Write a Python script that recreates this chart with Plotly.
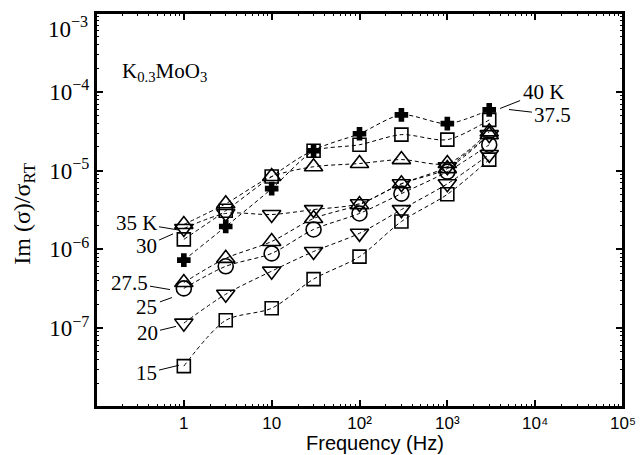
import plotly.graph_objects as go

freq = [1, 3, 10, 30, 100, 300, 1000, 3000]

s40 = [7.3e-7, 1.95e-6, 5.9e-6, 1.79e-5, 2.94e-5, 5.1e-5, 3.94e-5, 5.9e-5]
s375 = [1.34e-6, 3.1e-6, 8.4e-6, 1.79e-5, 2.13e-5, 2.86e-5, 2.47e-5, 4.4e-5]
s35 = [2.07e-6, 3.8e-6, 8.4e-6, 1.12e-5, 1.23e-5, 1.38e-5, 1.23e-5, 3.1e-5]
s30 = [1.84e-6, 2.86e-6, 2.77e-6, 3.2e-6, 3.8e-6, 6.8e-6, 1.12e-5, 2.86e-5]
s275 = [3.8e-7, 7.7e-7, 1.26e-6, 2.47e-6, 3.7e-6, 6.8e-6, 1.06e-5, 2.86e-5]
s25 = [3.2e-7, 6.1e-7, 8.9e-7, 1.79e-6, 2.86e-6, 5.1e-6, 9.7e-6, 2.13e-5]
s20 = [1.16e-7, 2.7e-7, 5.3e-7, 9.4e-7, 1.6e-6, 3.2e-6, 6.8e-6, 1.6e-5]
s15 = [3.3e-8, 1.26e-7, 1.79e-7, 4.2e-7, 8.1e-7, 2.26e-6, 5.0e-6, 1.38e-5]

series = [
    ("40 K", s40, "cross", 10),
    ("37.5 K", s375, "square-open", 13),
    ("35 K", s35, "triangle-up-open", 16),
    ("30 K", s30, "triangle-down-open", 16),
    ("27.5 K", s275, "triangle-up-open", 16),
    ("25 K", s25, "circle-open", 15),
    ("20 K", s20, "triangle-down-open", 16),
    ("15 K", s15, "square-open", 13),
]

x_tickvals = [1, 10, 100, 1000, 10000, 100000]
x_ticktext = ["1", "10", "10²", "10³", "10⁴", "10⁵"]
y_tickvals = [1e-7, 1e-6, 1e-5, 1e-4, 1e-3]
y_ticktext = ["10<sup>−7</sup>", "10<sup>−6</sup>", "10<sup>−5</sup>", "10<sup>−4</sup>", ""]
y_top_label = "10<sup>−3</sup>"

# series labels: (text, arrow tip log10 x, arrow tip log10 y, text offset px)
labels = [
    ("35 K", -0.066, -5.753, -42, -7),
    ("30", -0.123, -5.803, -27, 12),
    ("27.5", -0.157, -6.510, -41, -7),
    ("25", -0.135, -6.611, -25, 9),
    ("20", -0.089, -6.977, -29, 7),
    ("15", -0.055, -7.470, -33, 8),
    ("40 K", 3.600, -4.212, 43, -17),
    ("37.5", 3.702, -4.225, 44, 5),
]

fig = go.Figure()
for name, vals, sym, size in series:
    fig.add_trace(go.Scatter(
        x=freq, y=vals, name=name, mode="lines+markers",
        line=dict(color="black", width=1, dash="4px,3px", shape="spline", smoothing=0.8),
        marker=dict(symbol=sym, size=size, color="black",
                    line=dict(color="black", width=1.6)),
        showlegend=False,
    ))
# empty trace that only makes the top/right tick axes render
fig.add_trace(go.Scatter(x=[], y=[], xaxis="x2", yaxis="y2", showlegend=False, hoverinfo="skip"))

minor_x = [m * 10 ** d for d in range(-1, 5) for m in range(2, 10)]
minor_y = [m * 10 ** d for d in range(-8, -3) for m in range(2, 10)]

serif = "Liberation Serif"
sans = "Liberation Sans"

common = dict(
    type="log", showgrid=False, zeroline=False, automargin=False,
    showline=True, linecolor="black", linewidth=2, mirror="allticks",
    ticks="inside", ticklen=7, tickwidth=1.5, tickcolor="black",
    ticklabeloverflow="allow",
)
xcommon = dict(common, range=[-1, 5], tickmode="array", tickvals=x_tickvals,
               minor=dict(tickmode="array", tickvals=minor_x, ticks="inside", ticklen=3,
                          tickwidth=1, tickcolor="black", showgrid=False))
ycommon = dict(common, range=[-8, -3], tickmode="array", tickvals=y_tickvals,
               minor=dict(tickmode="array", tickvals=minor_y, ticks="inside", ticklen=3,
                          tickwidth=1, tickcolor="black", showgrid=False))

fig.update_layout(
    xaxis=dict(xcommon, ticktext=x_ticktext,
               tickfont=dict(family=sans, size=17, color="black")),
    yaxis=dict(ycommon, ticktext=y_ticktext,
               tickfont=dict(family=serif, size=23, color="black")),
    xaxis2=dict(xcommon, overlaying="x", side="top", anchor="y2", showticklabels=False),
    yaxis2=dict(ycommon, overlaying="y", side="right", anchor="x2", showticklabels=False),
)

for text, lx, ly, ax, ay in labels:
    fig.add_annotation(
        x=lx, y=ly, xref="x", yref="y", text=text, showarrow=True,
        arrowhead=0, arrowwidth=1, arrowcolor="black", ax=ax, ay=ay,
        standoff=0, startstandoff=1,
        font=dict(family=serif, size=21, color="black"),
    )

# top y tick label, lowered to stay inside the page as in the original
fig.add_annotation(
    x=-0.011, y=1.0, xref="paper", yref="paper", xanchor="right", yanchor="top",
    text=y_top_label, showarrow=False, yshift=2,
    font=dict(family=serif, size=23, color="black"),
)
fig.add_annotation(
    x=0.045, y=0.85, xref="paper", yref="paper", xanchor="left", yanchor="middle",
    text="K<sub>0.3</sub>MoO<sub>3</sub>", showarrow=False,
    font=dict(family=serif, size=21, color="black"),
)
# axis titles
fig.add_annotation(
    x=0.529, y=-0.092, xref="paper", yref="paper", xanchor="center", yanchor="middle",
    text="Frequency (Hz)", showarrow=False,
    font=dict(family=sans, size=20, color="black"),
)
fig.add_annotation(
    x=-0.137, y=0.49, xref="paper", yref="paper", xanchor="center", yanchor="middle",
    text="Im (σ)/σ<sub>RT</sub>", showarrow=False, textangle=-90,
    font=dict(family=serif, size=24, color="black"),
)
# plot frame
fig.add_shape(type="rect", xref="paper", yref="paper", x0=0, x1=1, y0=0, y1=1,
              line=dict(color="black", width=2), layer="above")

fig.update_layout(
    width=642, height=455,
    margin=dict(l=96, r=19, t=13, b=48),
    paper_bgcolor="white", plot_bgcolor="white",
)

fig.write_html("out.html", config={"displayModeBar": False},
               post_script="document.body.style.margin='0';")
